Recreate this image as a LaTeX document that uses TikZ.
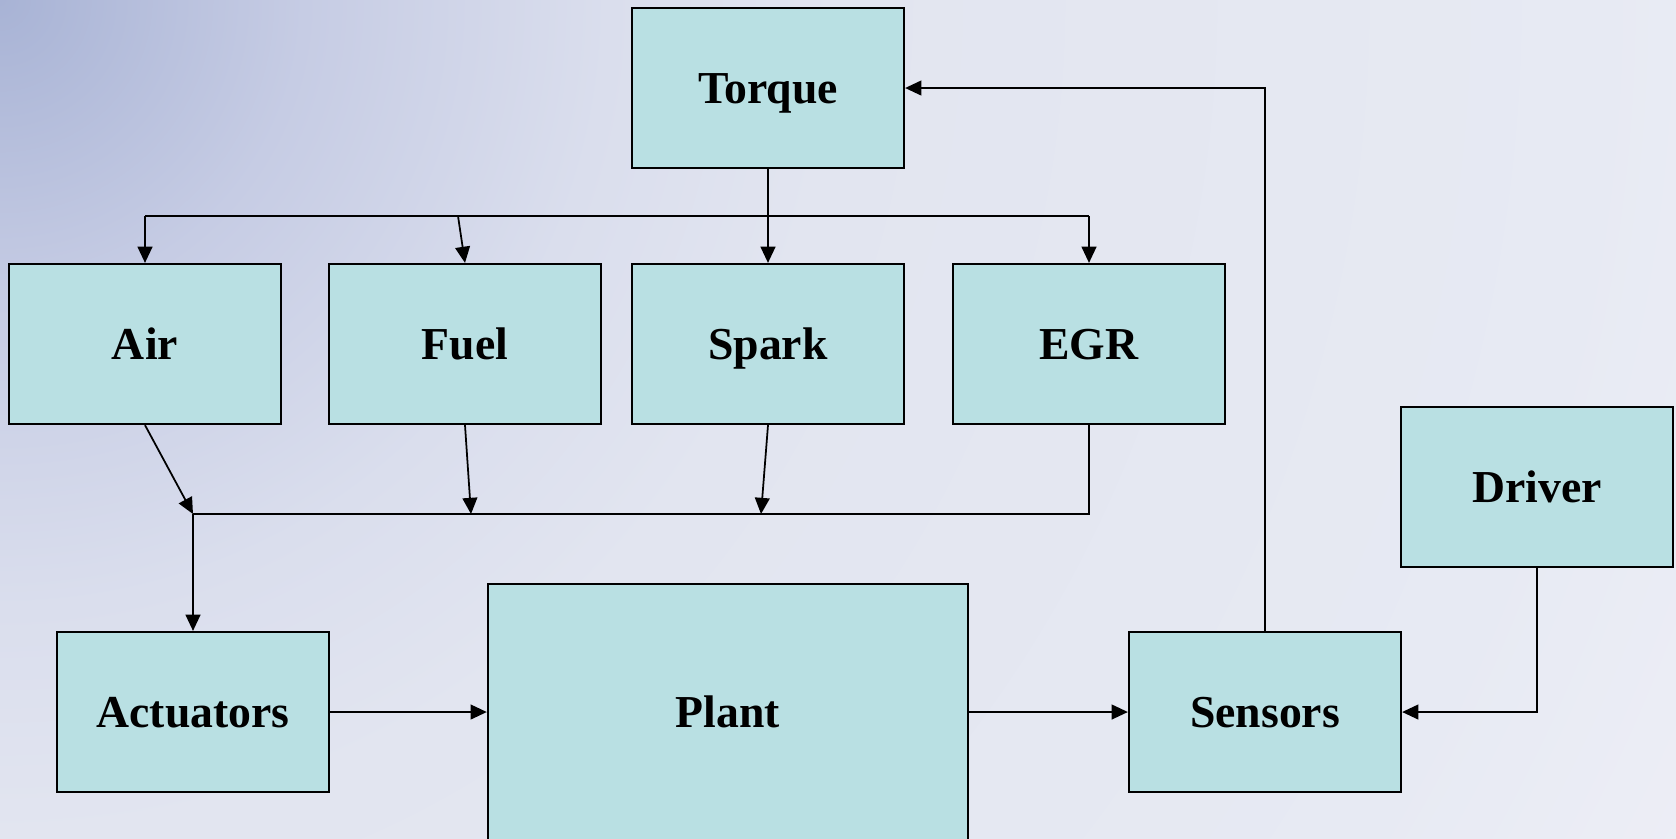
\documentclass[tikz,border=0pt]{standalone}
\usepackage{fontspec}
\setmainfont{Liberation Serif}
\usetikzlibrary{arrows.meta}
\definecolor{boxfill}{RGB}{185,224,227}
\definecolor{bgA}{RGB}{168,179,213}
\definecolor{bgB}{RGB}{198,204,228}
\definecolor{bgC}{RGB}{218,222,237}
\definecolor{bgD}{RGB}{226,229,240}
\definecolor{bgE}{RGB}{231,234,243}
\definecolor{bgF}{RGB}{237,238,246}
\pgfdeclareradialshading{bgglow}{\pgfpointorigin}{color(0bp)=(bgA); color(4bp)=(bgB);
  color(8bp)=(bgC); color(11bp)=(bgD); color(21bp)=(bgE); color(25bp)=(bgF); color(50bp)=(bgF)}
\begin{document}
\begin{tikzpicture}[x=0.01cm, y=-0.01cm,
  block/.style={draw=black, fill=boxfill, line width=0.6pt, inner sep=0pt,
    minimum width=2.72cm, minimum height=1.6cm, text height=8.6pt, text depth=0pt,
    font=\fontsize{13}{15}\selectfont\bfseries},
  arr/.style={-{Triangle[length=4.6pt, width=4.2pt]}},
  wire/.style={black, line width=0.5pt}]
\useasboundingbox (0,0) rectangle (1676,838);
\clip (0,0) rectangle (1676,838);
\shade[shading=bgglow] (0,0) circle[radius=19cm];
\node[block] (Torque) at (768,88) {Torque};
\node[block] (Air) at (145,344) {Air};
\node[block] (Fuel) at (465,344) {Fuel};
\node[block] (Spark) at (768,344) {Spark};
\node[block] (EGR) at (1089,344) {EGR};
\node[block] (Driver) at (1537,487) {Driver};
\node[block] (Actuators) at (193,712) {Actuators};
\node[block, minimum width=4.8cm, minimum height=2.56cm] (Plant) at (728,712) {Plant};
\node[block] (Sensors) at (1265,712) {Sensors};
\coordinate (topL) at (145,216);
\coordinate (topF) at (458,216);
\coordinate (topR) at (1089,216);
\coordinate (join) at (193,514);
\coordinate (fuelIn) at (471,514);
\coordinate (sparkIn) at (761,514);
\coordinate (egrOut) at (1089,514);
\draw[wire] (topL) -- (topR);
\draw[wire, arr] (Torque.south) -- (Spark.north);
\draw[wire, arr] (topL) -- (Air.north);
\draw[wire, arr] (topF) -- (Fuel.north);
\draw[wire, arr] (topR) -- (EGR.north);
\draw[wire, arr] (Air.south) -- (join);
\draw[wire, arr] (Fuel.south) -- (fuelIn);
\draw[wire, arr] (Spark.south) -- (sparkIn);
\draw[wire] (EGR.south) -- (egrOut) -- (join);
\draw[wire, arr] (join) -- (Actuators.north);
\draw[wire, arr] (Actuators.east) -- (Plant.west);
\draw[wire, arr] (Plant.east) -- (Sensors.west);
\draw[wire, arr] (Sensors.north) |- (Torque.east);
\draw[wire, arr] (Driver.south) |- (Sensors.east);
\end{tikzpicture}
\end{document}
